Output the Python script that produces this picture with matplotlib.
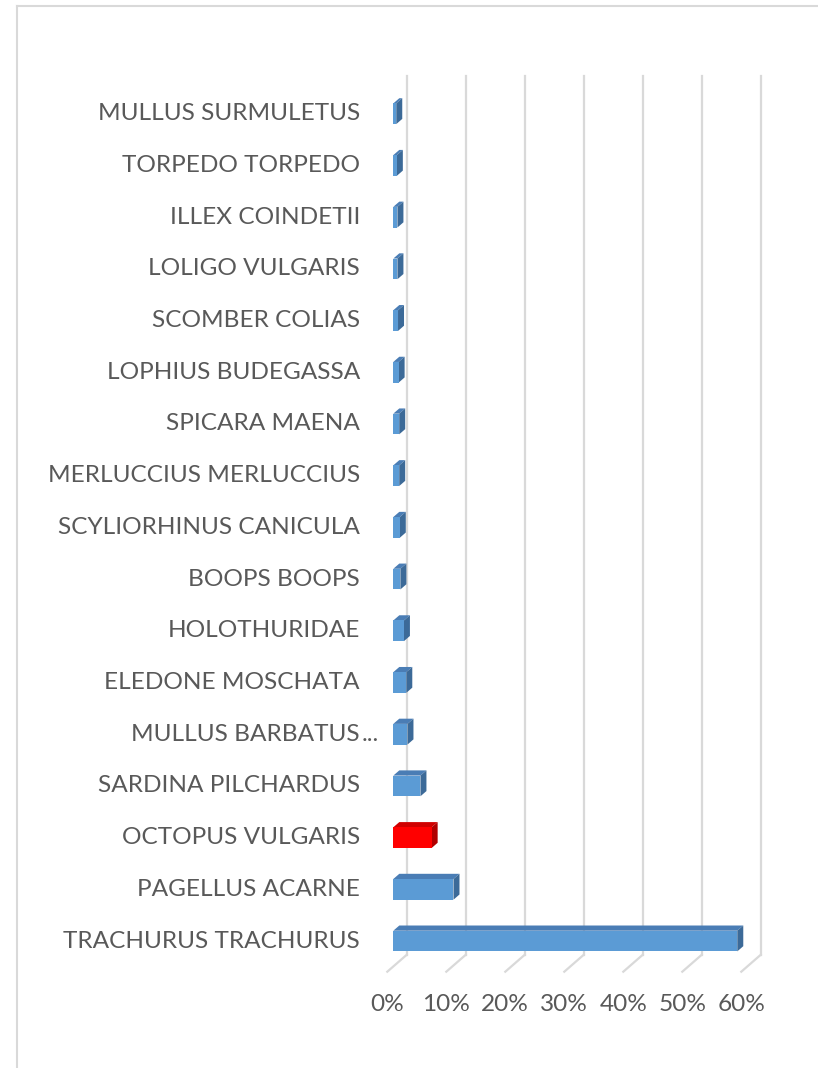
import matplotlib
matplotlib.use("Agg")
import matplotlib.pyplot as plt
from matplotlib.patches import Polygon
from matplotlib.lines import Line2D
from matplotlib.transforms import ScaledTranslation, IdentityTransform

# ---------------- data ----------------
species = [
    "TRACHURUS TRACHURUS", "PAGELLUS ACARNE", "OCTOPUS VULGARIS",
    "SARDINA PILCHARDUS", "MULLUS BARBATUS...", "ELEDONE MOSCHATA",
    "HOLOTHURIDAE", "BOOPS BOOPS", "SCYLIORHINUS CANICULA",
    "MERLUCCIUS MERLUCCIUS", "SPICARA MAENA", "LOPHIUS BUDEGASSA",
    "SCOMBER COLIAS", "LOLIGO VULGARIS", "ILLEX COINDETII",
    "TORPEDO TORPEDO", "MULLUS SURMULETUS",
]
share = [0.583, 0.102, 0.065, 0.046, 0.024, 0.022, 0.018, 0.012, 0.011,
         0.010, 0.010, 0.009, 0.008, 0.007, 0.007, 0.006, 0.005]
highlight = "OCTOPUS VULGARIS"
x_ticks = [0.0, 0.1, 0.2, 0.3, 0.4, 0.5, 0.6]
x_tick_labels = ["0%", "10%", "20%", "30%", "40%", "50%", "60%"]

# ---------------- style ----------------
W, H, DPI = 818, 1068, 100
BLUE_FRONT, BLUE_TOP, BLUE_SIDE = "#5B9BD5", "#4A7DB5", "#3C6A98"
RED_FRONT, RED_TOP, RED_SIDE = "#FF0000", "#D00000", "#B00000"
GRID = "#D9D9D9"
TXT = "#595959"
FONT = "Lato"
FS = 17.6

fig = plt.figure(figsize=(W / DPI, H / DPI), dpi=DPI)
fig.patch.set_facecolor("white")

# axes = plane of bar front faces (pixel coords measured from top)
x0_px, x60_px = 393.3, 747.3
y_bot_px, y_top_px = 966.9, 87.9
ax = fig.add_axes([x0_px / W, (H - y_bot_px) / H,
                   (x60_px - x0_px) / W, (y_bot_px - y_top_px) / H])
ax.set_xlim(0, 0.6)
ax.set_ylim(-0.5, len(species) - 0.5)
ax.axis("off")

# depth offsets in pixels (display coords: +y is up)
BACK = (13.4, 12.1)     # back wall relative to bar front plane
FRONT = (-6.0, -4.8)    # front floor edge relative to bar front plane
BAR_D = (6.0, 5.2)      # bar depth

ident = IdentityTransform()

def to_disp(x, y):
    return ax.transData.transform((x, y))

# back-wall gridlines
back_tr = ax.transData + ScaledTranslation(BACK[0] / DPI, BACK[1] / DPI, fig.dpi_scale_trans)
for xv in x_ticks:
    ax.add_line(Line2D([xv, xv], [-0.5, len(species) - 0.5], color=GRID, lw=1.6,
                       transform=back_tr, clip_on=False, zorder=1))
    # floor diagonal
    px, py = to_disp(xv, -0.5)
    ax.add_line(Line2D([px + FRONT[0], px + BACK[0]], [py + FRONT[1], py + BACK[1]],
                       color=GRID, lw=1.6, transform=ident, clip_on=False, zorder=1))

# bars
bh = 0.4
ypos = list(range(len(species)))
colors_front = [RED_FRONT if s == highlight else BLUE_FRONT for s in species]
ax.barh(ypos, share, height=bh, color=colors_front, zorder=3, linewidth=0)
for y, v, s in zip(ypos, share, species):
    top_c = RED_TOP if s == highlight else BLUE_TOP
    side_c = RED_SIDE if s == highlight else BLUE_SIDE
    a = to_disp(0, y + bh / 2)
    b = to_disp(v, y + bh / 2)
    c = to_disp(v, y - bh / 2)
    dx, dy = BAR_D
    top = [a, b, (b[0] + dx, b[1] + dy), (a[0] + dx, a[1] + dy)]
    side = [c, b, (b[0] + dx, b[1] + dy), (c[0] + dx, c[1] + dy)]
    ax.add_patch(Polygon(top, closed=True, facecolor=top_c, edgecolor="none",
                         transform=ident, clip_on=False, zorder=2))
    ax.add_patch(Polygon(side, closed=True, facecolor=side_c, edgecolor="none",
                         transform=ident, clip_on=False, zorder=2))

# category labels (truncated labels: the ellipsis overhangs the label column)
lab_tr = ax.transData + ScaledTranslation(-33.3 / DPI, 0, fig.dpi_scale_trans)
for y, s in zip(ypos, species):
    main = s[:-3] if s.endswith("...") else s
    t = ax.text(0, y, main, transform=lab_tr, ha="right", va="center", fontsize=FS,
                color=TXT, family=FONT, clip_on=False)
    if s.endswith("..."):
        ax.annotate("...", xy=(1, 0), xycoords=t, xytext=(1, 0), textcoords="offset points",
                    ha="left", va="bottom", fontsize=FS, color=TXT, family=FONT)

# x tick labels (front edge of floor)
tick_tr = ax.transData + ScaledTranslation(FRONT[0] / DPI, (FRONT[1] - 33) / DPI,
                                           fig.dpi_scale_trans)
for xv, t in zip(x_ticks, x_tick_labels):
    ax.text(xv, -0.5, t, transform=tick_tr, ha="center", va="center", fontsize=FS,
            color=TXT, family=FONT, clip_on=False)

# chart-area border (partially visible)
fig.add_artist(Line2D([16.5 / W, 16.5 / W], [0, 1 - 5.5 / H], color=GRID, lw=1.5,
                      transform=fig.transFigure))
fig.add_artist(Line2D([16.5 / W, 1], [1 - 5.5 / H, 1 - 5.5 / H], color=GRID, lw=1.5,
                      transform=fig.transFigure))

fig.savefig("out.png", dpi=DPI)
